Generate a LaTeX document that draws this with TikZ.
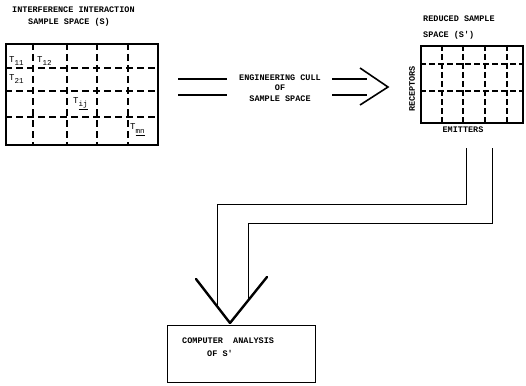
\documentclass[tikz,border=0pt]{standalone}
\usepackage{fontspec}
\setmonofont{Liberation Mono}
\begin{document}
\begin{tikzpicture}[x=1pt,y=-1pt,
  lbl/.style={font=\ttfamily\bfseries\fontsize{8.5}{10.5}\selectfont, inner sep=0pt},
  tlbl/.style={font=\ttfamily\fontsize{9}{10}\selectfont, inner sep=0pt, anchor=west},
  gridbox/.style={draw, line width=1.8pt, inner sep=0pt, anchor=north west},
  gridline/.style={line width=1.3pt, dash pattern=on 7pt off 4pt},
  conn/.style={line width=0.9pt},
  arm/.style={line width=2.4pt, line cap=round, line join=round},
  dbl/.style={line width=1.3pt}
]
\useasboundingbox (0,0) rectangle (526,385);

% ---- left sample space
\node[lbl, anchor=west] (t1) at (12,10) {INTERFERENCE INTERACTION};
\node[lbl, anchor=west] (t2) at (28,22) {SAMPLE SPACE (S)};
\node[gridbox, minimum width=152pt, minimum height=101pt] (S) at (5,43) {};
\foreach \xx in {33,67,97,128} \draw[gridline] (\xx,43) -- (\xx,144);
\foreach \yy in {68,91,117} \draw[gridline] (5,\yy) -- (157,\yy);
\node[tlbl] (T11) at (9,61) {T\raisebox{-2.5pt}{\fontsize{7.5}{8}\selectfont 11}};
\node[tlbl] (T12) at (37,61) {T\raisebox{-2.5pt}{\fontsize{7.5}{8}\selectfont 12}};
\node[tlbl] (T21) at (9,79) {T\raisebox{-2.5pt}{\fontsize{7.5}{8}\selectfont 21}};
\node[tlbl] (Tij) at (73,104) {T\raisebox{-3pt}{\fontsize{7.5}{8}\selectfont\underline{ij}}};
\node[tlbl] (Tmn) at (130,130) {T\raisebox{-4pt}{\fontsize{7.5}{8}\selectfont\underline{mn}}};

% ---- middle cull arrow
\node[lbl, align=center] (cull) at (280,88) {ENGINEERING CULL\\OF\\SAMPLE SPACE};
\coordinate (la1) at (178,79); \coordinate (la2) at (227,79);
\coordinate (lb1) at (178,95); \coordinate (lb2) at (227,95);
\coordinate (ra1) at (332,79); \coordinate (ra2) at (367,79);
\coordinate (rb1) at (332,95); \coordinate (rb2) at (367,95);
\coordinate (tip) at (388,87);
\draw[dbl] (la1) -- (la2);
\draw[dbl] (lb1) -- (lb2);
\draw[dbl] (ra1) -- (ra2);
\draw[dbl] (rb1) -- (rb2);
\draw[line width=1.6pt, line join=miter] (360,68) -- (tip) -- (360,105);

% ---- right reduced sample space
\node[lbl, anchor=west] (r1) at (423,19) {REDUCED SAMPLE};
\node[lbl, anchor=west] (r2) at (423,35) {SPACE (S')};
\node[gridbox, minimum width=102pt, minimum height=77pt] (R) at (420,45) {};
\foreach \xx in {442,463,485,507} \draw[gridline, dash pattern=on 6pt off 3pt] (\xx,45) -- (\xx,122);
\foreach \yy in {64,91} \draw[gridline, dash pattern=on 6pt off 3pt] (420,\yy) -- (522,\yy);
\node[lbl, rotate=90] (rec) at (412,89) {RECEPTORS};
\node[lbl] (emi) at (463,130) {EMITTERS};

% ---- connectors to computer analysis
\node[draw, line width=1.2pt, minimum width=148pt, minimum height=57pt, inner sep=0pt, anchor=north west] (C) at (167,325) {};
\node[lbl, anchor=west] (c1) at (182,341) {COMPUTER\ \ ANALYSIS};
\node[lbl, anchor=west] (c2) at (207,353) {OF S'};

\coordinate (p1) at (466,148);
\coordinate (p2) at (492,148);
\coordinate (m) at (230,323);
\coordinate (al) at (196,279);
\coordinate (ar) at (267,277);
\draw[conn] (p1) |- (217,204) -- (217,305);
\draw[conn] (p2) |- (248,223) -- (248,300);
\draw[arm] (al) -- (m);
\draw[arm] (ar) -- (m);
\end{tikzpicture}
\end{document}
